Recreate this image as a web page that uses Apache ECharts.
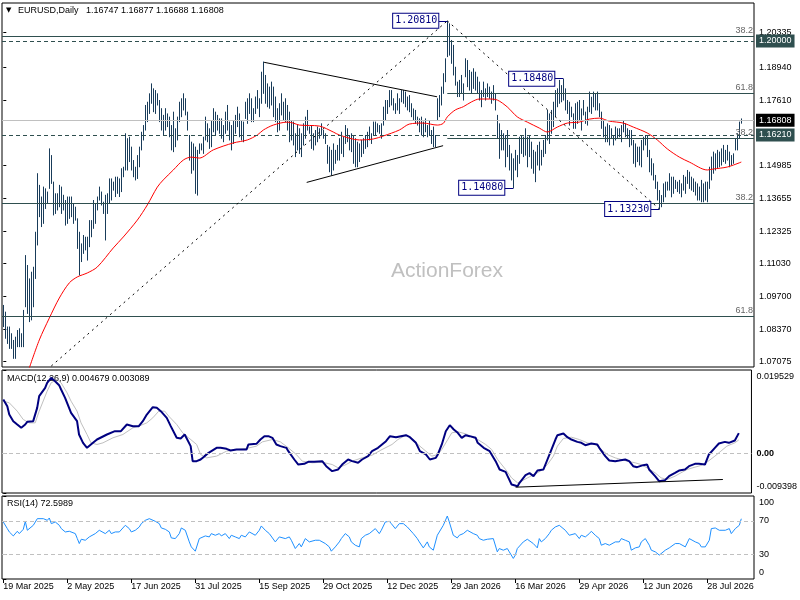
<!DOCTYPE html>
<html><head><meta charset="utf-8">
<script src="https://cdn.jsdelivr.net/npm/echarts@6/dist/echarts.min.js"></script>
<style>html,body{margin:0;padding:0;background:#fff}#c{width:800px;height:600px}</style>
</head><body><div id="c"></div>
<script>
// ---------- DATA ----------
const TICK_BARS = [0,32,64,96,128,160,192,224,256,288,320,352];
const TICK_LABELS = ['19 Mar 2025','2 May 2025','17 Jun 2025','31 Jul 2025','15 Sep 2025','29 Oct 2025','12 Dec 2025','29 Jan 2026','16 Mar 2026','29 Apr 2026','12 Jun 2026','28 Jul 2026'];
const PRICE_TICKS = [1.07075,1.08370,1.09700,1.11030,1.12325,1.13655,1.14985,1.17610,1.18940,1.20335];

const HIGH = [
1.0936,1.0909,1.0849,1.0849,1.0822,1.0795,1.0808,1.0835,1.0842,1.0822,
1.0916,1.1137,1.1097,1.1043,1.1070,1.1090,1.1231,1.1467,1.1420,1.1373,
1.1413,1.1406,1.1393,1.1567,1.1540,1.1433,1.1386,1.1386,1.1420,1.1413,
1.1380,1.1359,1.1373,1.1373,1.1373,1.1346,1.1332,1.1285,1.1231,1.1184,
1.1218,1.1211,1.1211,1.1278,1.1278,1.1359,1.1346,1.1373,1.1413,1.1393,
1.1352,1.1380,1.1386,1.1446,1.1446,1.1433,1.1453,1.1453,1.1446,1.1487,
1.1493,1.1628,1.1608,1.1614,1.1574,1.1520,1.1493,1.1540,1.1574,1.1634,
1.1661,1.1742,1.1755,1.1789,1.1829,1.1809,1.1802,1.1789,1.1762,1.1729,
1.1702,1.1729,1.1708,1.1695,1.1661,1.1715,1.1648,1.1695,1.1755,1.1769,
1.1789,1.1769,1.1715,1.1621,1.1594,1.1587,1.1574,1.1561,1.1587,1.1587,
1.1614,1.1695,1.1668,1.1648,1.1681,1.1729,1.1715,1.1702,1.1688,1.1688,
1.1661,1.1715,1.1742,1.1675,1.1661,1.1681,1.1702,1.1735,1.1708,1.1681,
1.1675,1.1755,1.1769,1.1789,1.1769,1.1729,1.1776,1.1802,1.1769,1.1876,
1.1917,1.1863,1.1829,1.1816,1.1836,1.1816,1.1776,1.1729,1.1749,1.1789,
1.1755,1.1769,1.1742,1.1715,1.1681,1.1675,1.1628,1.1661,1.1648,1.1628,
1.1668,1.1695,1.1722,1.1655,1.1661,1.1628,1.1641,1.1655,1.1648,1.1668,
1.1641,1.1628,1.1581,1.1574,1.1561,1.1587,1.1561,1.1581,1.1608,1.1634,
1.1614,1.1661,1.1648,1.1621,1.1628,1.1621,1.1608,1.1594,1.1587,1.1601,
1.1608,1.1621,1.1634,1.1655,1.1628,1.1675,1.1675,1.1668,1.1661,1.1668,
1.1735,1.1762,1.1762,1.1802,1.1802,1.1769,1.1749,1.1789,1.1769,1.1802,
1.1802,1.1796,1.1776,1.1782,1.1749,1.1728,1.1722,1.1695,1.1688,1.1695,
1.1675,1.1688,1.1661,1.1681,1.1641,1.1655,1.1621,1.1769,1.1782,1.1816,
1.1870,1.1930,1.2081,1.2071,1.2004,1.1984,1.1896,1.1836,1.1843,1.1863,
1.1829,1.1930,1.1923,1.1883,1.1876,1.1890,1.1876,1.1856,1.1836,1.1802,
1.1836,1.1809,1.1829,1.1816,1.1796,1.1822,1.1789,1.1702,1.1668,1.1641,
1.1628,1.1621,1.1641,1.1581,1.1547,1.1527,1.1561,1.1540,1.1614,1.1621,
1.1614,1.1648,1.1614,1.1621,1.1594,1.1561,1.1554,1.1581,1.1594,1.1561,
1.1601,1.1621,1.1722,1.1708,1.1722,1.1755,1.1802,1.1809,1.1843,1.1822,
1.1848,1.1809,1.1762,1.1755,1.1735,1.1708,1.1749,1.1755,1.1762,1.1728,
1.1762,1.1715,1.1735,1.1796,1.1775,1.1796,1.1789,1.1796,1.1749,1.1715,
1.1681,1.1655,1.1668,1.1661,1.1648,1.1621,1.1655,1.1648,1.1648,1.1661,
1.1681,1.1668,1.1648,1.1641,1.1641,1.1601,1.1587,1.1574,1.1574,1.1601,
1.1614,1.1621,1.1621,1.1561,1.1527,1.1507,1.1460,1.1433,1.1399,1.1379,
1.1426,1.1433,1.1433,1.1467,1.1453,1.1453,1.1440,1.1433,1.1440,1.1426,
1.1460,1.1453,1.1480,1.1473,1.1453,1.1446,1.1433,1.1426,1.1413,1.1440,
1.1426,1.1433,1.1433,1.1493,1.1534,1.1554,1.1547,1.1561,1.1554,1.1567,
1.1581,1.1561,1.1581,1.1554,1.1540,1.1547,1.1608,1.1628,1.1675,1.16877
];
const LOW = [
1.0849,1.0802,1.0781,1.0761,1.0761,1.0721,1.0721,1.0768,1.0768,1.0768,
1.0768,1.0929,1.0902,1.0869,1.0876,1.0929,1.1043,1.1178,1.1292,1.1252,
1.1265,1.1325,1.1346,1.1406,1.1426,1.1299,1.1305,1.1319,1.1332,1.1305,
1.1319,1.1258,1.1265,1.1285,1.1292,1.1265,1.1278,1.1164,1.1057,1.1111,
1.1144,1.1158,1.1117,1.1171,1.1211,1.1245,1.1265,1.1319,1.1359,1.1339,
1.1305,1.1198,1.1305,1.1346,1.1359,1.1399,1.1373,1.1386,1.1373,1.1393,
1.1453,1.1480,1.1480,1.1514,1.1480,1.1453,1.1440,1.1446,1.1493,1.1561,
1.1601,1.1641,1.1675,1.1708,1.1749,1.1715,1.1708,1.1742,1.1675,1.1641,
1.1621,1.1641,1.1655,1.1614,1.1561,1.1554,1.1574,1.1601,1.1675,1.1695,
1.1722,1.1702,1.1641,1.1520,1.1467,1.1480,1.1386,1.1379,1.1547,1.1561,
1.1547,1.1601,1.1594,1.1567,1.1574,1.1634,1.1621,1.1641,1.1628,1.1608,
1.1594,1.1628,1.1641,1.1601,1.1561,1.1587,1.1628,1.1655,1.1614,1.1601,
1.1594,1.1688,1.1668,1.1708,1.1675,1.1675,1.1708,1.1729,1.1695,1.1749,
1.1789,1.1749,1.1735,1.1729,1.1742,1.1695,1.1675,1.1634,1.1641,1.1702,
1.1681,1.1675,1.1641,1.1594,1.1601,1.1581,1.1534,1.1561,1.1547,1.1534,
1.1581,1.1608,1.1641,1.1628,1.1567,1.1561,1.1581,1.1594,1.1608,1.1621,
1.1608,1.1587,1.1507,1.1473,1.1460,1.1480,1.1507,1.1520,1.1520,1.1547,
1.1534,1.1587,1.1594,1.1561,1.1554,1.1507,1.1493,1.1493,1.1514,1.1534,
1.1547,1.1567,1.1574,1.1601,1.1587,1.1621,1.1621,1.1634,1.1628,1.1608,
1.1661,1.1681,1.1708,1.1735,1.1742,1.1722,1.1708,1.1722,1.1708,1.1755,
1.1749,1.1735,1.1722,1.1715,1.1695,1.1681,1.1668,1.1661,1.1634,1.1621,
1.1614,1.1634,1.1614,1.1621,1.1587,1.1574,1.1574,1.1681,1.1695,1.1742,
1.1789,1.1836,1.1937,1.1943,1.1910,1.1863,1.1822,1.1776,1.1776,1.1789,
1.1762,1.1856,1.1816,1.1802,1.1789,1.1809,1.1802,1.1789,1.1762,1.1735,
1.1776,1.1762,1.1776,1.1769,1.1749,1.1762,1.1722,1.1608,1.1527,1.1561,
1.1561,1.1493,1.1534,1.1480,1.1440,1.1408,1.1480,1.1453,1.1507,1.1547,
1.1534,1.1540,1.1493,1.1534,1.1487,1.1467,1.1433,1.1500,1.1480,1.1500,
1.1534,1.1547,1.1601,1.1587,1.1628,1.1655,1.1695,1.1735,1.1749,1.1755,
1.1762,1.1722,1.1708,1.1661,1.1695,1.1648,1.1648,1.1668,1.1681,1.1641,
1.1702,1.1668,1.1661,1.1715,1.1708,1.1735,1.1722,1.1722,1.1695,1.1648,
1.1614,1.1594,1.1594,1.1581,1.1608,1.1581,1.1601,1.1608,1.1614,1.1594,
1.1634,1.1614,1.1608,1.1574,1.1581,1.1507,1.1493,1.1514,1.1500,1.1493,
1.1561,1.1581,1.1534,1.1473,1.1460,1.1440,1.1406,1.1359,1.1323,1.1332,
1.1352,1.1372,1.1399,1.1399,1.1372,1.1386,1.1406,1.1393,1.1386,1.1372,
1.1399,1.1386,1.1426,1.1406,1.1399,1.1393,1.1379,1.1359,1.1359,1.1352,
1.1352,1.1359,1.1352,1.1406,1.1440,1.1467,1.1480,1.1487,1.1493,1.1500,
1.1514,1.1507,1.1520,1.1493,1.1500,1.1507,1.1561,1.1561,1.1608,1.16688
];

const MA_POINTS = [[13,1.0682],[18,1.0795],[23,1.0883],[28,1.0964],[33,1.1025],[37,1.1049],[42,1.1065],[47,1.1089],[55,1.1166],[60,1.1210],[67,1.1278],[72,1.1339],[77,1.1411],[80,1.1440],[85,1.1480],[90,1.1520],[94,1.1532],[98,1.1528],[105,1.1561],[115,1.1589],[122,1.1601],[127,1.1621],[130,1.1641],[135,1.1661],[142,1.1673],[145,1.1669],[148,1.1661],[158,1.1657],[165,1.1633],[168,1.1621],[178,1.1601],[185,1.1605],[190,1.1617],[198,1.1641],[203,1.1665],[210,1.1669],[217,1.1661],[220,1.1668],[222,1.1694],[226,1.1722],[230,1.1735],[234,1.1754],[238,1.1766],[243,1.1766],[247,1.1762],[252,1.1734],[257,1.1694],[262,1.1673],[268,1.1649],[272,1.1633],[277,1.1653],[282,1.1669],[288,1.1673],[293,1.1685],[298,1.1689],[303,1.1677],[310,1.1669],[315,1.1653],[322,1.1629],[327,1.1601],[332,1.1565],[338,1.1532],[343,1.1512],[352,1.1480],[355,1.1484],[362,1.1492],[369,1.1512]];

const MACD_POINTS = [[0,0.01259],[2,0.01102],[3,0.00906],[5,0.00750],[7,0.00671],[9,0.00593],[11,0.00671],[12,0.00734],[15,0.00750],[17,0.01063],[18,0.01337],[21,0.01533],[22,0.01651],[24,0.01769],[26,0.01690],[28,0.01596],[29,0.01494],[31,0.01298],[33,0.01063],[34,0.00945],[37,0.00750],[38,0.00436],[40,0.00240],[42,0.00122],[43,0.00162],[45,0.00240],[47,0.00318],[48,0.00358],[52,0.00436],[53,0.00475],[56,0.00514],[59,0.00514],[62,0.00671],[63,0.00710],[65,0.00632],[68,0.00632],[70,0.00750],[72,0.00906],[75,0.01079],[77,0.01063],[79,0.00985],[82,0.00828],[84,0.00632],[87,0.00358],[89,0.00342],[91,0.00436],[92,0.00397],[94,0.00162],[95,-0.00191],[97,-0.00191],[99,-0.00152],[101,-0.00073],[103,0.00005],[107,0.00122],[109,0.00122],[112,0.00099],[114,0.00060],[117,0.00083],[118,0.00107],[122,0.00083],[123,0.00201],[127,0.00217],[129,0.00318],[131,0.00397],[133,0.00397],[135,0.00358],[137,0.00201],[139,0.00162],[142,0.00122],[143,0.00044],[146,-0.00152],[148,-0.00270],[151,-0.00254],[153,-0.00207],[156,-0.00207],[160,-0.00191],[162,-0.00309],[165,-0.00426],[168,-0.00387],[170,-0.00270],[173,-0.00152],[175,-0.00191],[178,-0.00230],[180,-0.00152],[183,-0.00073],[185,0.00044],[188,0.00122],[192,0.00279],[194,0.00397],[197,0.00373],[198,0.00397],[202,0.00420],[204,0.00373],[207,0.00240],[209,0.00044],[212,-0.00034],[214,-0.00152],[217,-0.00113],[218,-0.00034],[220,0.00201],[222,0.00514],[224,0.00655],[226,0.00554],[228,0.00475],[230,0.00358],[232,0.00420],[234,0.00397],[237,0.00358],[238,0.00240],[241,0.00122],[244,0.00044],[247,-0.00191],[249,-0.00387],[252,-0.00442],[253,-0.00544],[255,-0.00740],[258,-0.00779],[259,-0.00701],[262,-0.00520],[264,-0.00473],[266,-0.00544],[268,-0.00411],[271,-0.00387],[273,-0.00152],[275,0.00083],[277,0.00318],[278,0.00420],[281,0.00460],[283,0.00373],[285,0.00318],[288,0.00263],[290,0.00240],[292,0.00185],[295,0.00224],[298,0.00201],[299,0.00122],[302,-0.00073],[304,-0.00176],[307,-0.00191],[309,-0.00176],[312,-0.00152],[314,-0.00191],[316,-0.00309],[318,-0.00332],[321,-0.00285],[323,-0.00270],[324,-0.00387],[327,-0.00544],[329,-0.00662],[332,-0.00638],[334,-0.00544],[337,-0.00465],[339,-0.00411],[342,-0.00387],[344,-0.00309],[347,-0.00254],[349,-0.00254],[352,-0.00270],[354,-0.00034],[357,0.00122],[359,0.00224],[362,0.00263],[364,0.00240],[367,0.00295],[369,0.00468]];

const SIGNAL_POINTS = [[0,0.01220],[3,0.01181],[7,0.00985],[10,0.00789],[13,0.00710],[16,0.00710],[18,0.00985],[22,0.01455],[24,0.01651],[27,0.01729],[29,0.01651],[32,0.01416],[34,0.01220],[37,0.00985],[39,0.00710],[42,0.00436],[44,0.00240],[47,0.00201],[50,0.00240],[55,0.00358],[60,0.00436],[65,0.00593],[68,0.00632],[72,0.00710],[75,0.00828],[78,0.00985],[81,0.00985],[83,0.00867],[87,0.00671],[90,0.00475],[93,0.00358],[97,0.00201],[99,-0.00034],[102,-0.00113],[107,-0.00073],[112,0.00044],[117,0.00083],[122,0.00107],[127,0.00162],[130,0.00263],[135,0.00318],[139,0.00263],[143,0.00122],[147,-0.00034],[150,-0.00191],[155,-0.00230],[160,-0.00215],[165,-0.00270],[168,-0.00348],[172,-0.00270],[175,-0.00191],[180,-0.00113],[185,-0.00050],[190,0.00083],[195,0.00201],[198,0.00318],[202,0.00420],[205,0.00342],[208,0.00201],[212,0.00044],[215,-0.00073],[218,-0.00034],[220,0.00083],[223,0.00318],[225,0.00475],[228,0.00499],[232,0.00452],[235,0.00373],[238,0.00318],[242,0.00201],[245,0.00083],[248,-0.00152],[252,-0.00387],[255,-0.00583],[258,-0.00701],[260,-0.00662],[263,-0.00583],[267,-0.00489],[270,-0.00411],[273,-0.00270],[276,-0.00073],[278,0.00162],[281,0.00342],[285,0.00373],[289,0.00318],[293,0.00240],[297,0.00201],[300,0.00083],[303,-0.00034],[307,-0.00113],[310,-0.00152],[313,-0.00191],[317,-0.00230],[320,-0.00270],[323,-0.00348],[327,-0.00465],[330,-0.00583],[333,-0.00622],[337,-0.00544],[340,-0.00465],[343,-0.00387],[347,-0.00332],[350,-0.00293],[353,-0.00215],[357,-0.00073],[360,0.00044],[363,0.00162],[367,0.00240],[369,0.00309]];

const RSI_POINTS = [[0,68.7],[2,60.7],[3,56.7],[5,51.9],[7,57.5],[8,54.7],[10,59.9],[11,69.5],[12,58.7],[13,60.7],[15,64.7],[17,72.7],[18,70.7],[20,72.7],[22,70.7],[23,73.5],[24,66.7],[26,68.7],[28,64.7],[29,60.7],[31,56.7],[33,57.5],[34,59.9],[36,54.7],[37,48.7],[38,42.7],[39,47.9],[41,46.7],[43,50.7],[44,52.7],[46,54.7],[48,58.7],[49,56.7],[51,54.7],[53,58.7],[54,54.7],[56,56.7],[58,56.7],[59,58.7],[61,64.7],[63,60.7],[64,56.7],[66,58.7],[68,62.7],[69,66.7],[71,70.7],[73,72.7],[74,73.5],[76,69.5],[78,66.7],[79,61.5],[81,59.9],[83,56.7],[84,49.5],[86,48.7],[88,54.7],[89,61.5],[91,58.7],[93,44.7],[94,38.7],[96,33.5],[98,48.7],[99,49.5],[101,51.9],[103,50.7],[104,54.7],[106,52.7],[108,54.7],[109,51.9],[111,54.7],[113,48.7],[114,52.7],[116,50.7],[118,48.7],[119,52.7],[121,50.7],[123,56.7],[124,54.7],[126,52.7],[128,58.7],[129,63.9],[131,58.7],[133,54.7],[134,56.7],[136,44.7],[138,50.7],[139,50.7],[141,48.7],[143,50.7],[144,46.7],[146,36.7],[148,42.7],[149,38.7],[151,48.7],[153,44.7],[154,44.7],[156,46.7],[158,46.7],[159,48.7],[161,42.7],[163,38.7],[164,33.5],[166,38.7],[168,44.7],[169,48.7],[171,54.7],[173,50.7],[174,44.7],[176,40.7],[178,38.7],[179,48.7],[181,52.7],[183,54.7],[184,56.7],[186,60.7],[188,54.7],[189,58.7],[191,68.7],[193,69.5],[194,66.7],[196,60.7],[198,66.7],[200,66.7],[202,62.7],[203,60.7],[205,54.7],[207,48.7],[208,44.7],[210,37.5],[212,44.7],[213,38.7],[215,34.7],[217,52.7],[218,56.7],[220,64.7],[222,75.9],[223,68.7],[225,52.7],[227,49.5],[228,52.7],[230,54.7],[232,58.7],[233,56.7],[235,54.7],[237,52.7],[238,48.7],[240,46.7],[242,47.9],[243,49.5],[245,48.7],[247,32.7],[248,36.7],[250,34.7],[252,36.7],[253,32.7],[255,24.8],[256,28.8],[257,36.7],[258,38.7],[260,44.7],[262,47.9],[263,46.7],[265,42.7],[267,37.5],[268,48.7],[269,44.7],[271,48.7],[273,54.7],[274,58.7],[276,62.7],[278,64.7],[279,62.7],[281,58.7],[283,52.7],[284,50.7],[286,54.7],[288,48.7],[289,52.7],[291,50.7],[293,54.7],[294,57.5],[296,52.7],[298,48.7],[299,40.7],[301,42.7],[303,40.7],[304,42.7],[306,44.7],[308,44.7],[309,48.7],[311,46.7],[313,44.7],[314,34.7],[316,37.5],[318,38.7],[319,44.7],[321,48.7],[323,40.7],[324,34.7],[326,32.7],[328,28.8],[329,30.7],[331,34.7],[333,37.5],[334,36.7],[336,42.7],[338,42.7],[339,44.7],[341,38.7],[343,48.7],[344,46.7],[346,44.7],[348,42.7],[349,38.7],[351,38.7],[353,46.7],[354,60.7],[356,61.5],[358,58.7],[359,60.7],[361,58.7],[363,60.7],[364,54.7],[366,60.7],[368,64.7],[369,72.6]];

// drawn objects (bar index, price)
const FIB_LEVELS = [1.2020, 1.1789, 1.1609, 1.1346, 1.0892];
const FIB_TEXTS  = ['38.2', '61.8', '38.2', '38.2', '61.8'];
const FIB_FROM   = [null, 222, 222, null, null];
const LEVEL_BOXES = [1.2000, 1.1621];
const LAST_PRICE = 1.16808;
const TRI_UPPER = [[130.4, 1.1914], [216.9, 1.1775]];
const TRI_LOWER = [[151.7, 1.1430], [219.9, 1.1578]];
const DIAG_UP   = [[24, 1.0690], [222, 1.2081]];
const DIAG_DOWN = [[222, 1.2081], [328, 1.1323]];
const MACD_TREND = [[257, -0.00803], [361, -0.00622]];
const ANN_BARS   = [222, 280, 255, 328];
const ANN_PRICES = [1.2081, 1.1848, 1.1408, 1.1323];
const ANN_TEXTS  = ['1.20810', '1.18480', '1.14080', '1.13230'];

if (HIGH.length !== 370 || LOW.length !== 370) throw new Error('len ' + HIGH.length + ' ' + LOW.length);

// ---------- CHART ----------
const FONT = '"Liberation Sans", Arial, sans-serif';
const BAR_COLOR = '#193c5a';
const FIB_COLOR = '#2f4f4f';
const X_MIN = -0.65, X_MAX = 375.35;
const P_MIN = 1.0686, P_MAX = 1.2153;
const MACD_MIN = -0.009398, MACD_MAX = 0.019529;
const ANN_GAP = 9;                 // connector length in px
const near = (a, b) => Math.abs(a - b) < 1e-9;

const chart = echarts.init(document.getElementById('c'));

const barData = HIGH.map((h, i) => [i, LOW[i], h]);

const hSeg = (from, lv, lineStyle, label) => [
  {coord: [from, lv], lineStyle: lineStyle, label: label || {show: false}},
  {coord: [X_MAX, lv]}
];
const boxLabel = (text, bg) => ({show: true, position: 'end', formatter: text, color: '#fff', backgroundColor: bg,
  padding: [2, 3, 1, 3], distance: 2, fontFamily: FONT, fontSize: 9, lineHeight: 10});

const mainLines = [];
FIB_LEVELS.forEach((lv, k) => {
  const lab = {show: true, position: 'insideEndTop', formatter: FIB_TEXTS[k], color: '#666', fontFamily: FONT, fontSize: 9, distance: [1, 1]};
  const from = FIB_FROM[k] === null ? X_MIN : FIB_FROM[k];
  mainLines.push(hSeg(from, lv, {color: FIB_COLOR, width: 1, type: 'solid'}, lab));
});
LEVEL_BOXES.forEach(lv => {
  mainLines.push(hSeg(X_MIN, lv, {color: FIB_COLOR, width: 1, type: [4, 3]}, boxLabel(lv.toFixed(5), FIB_COLOR)));
});
mainLines.push(hSeg(X_MIN, LAST_PRICE, {color: '#c0c0c0', width: 1, type: 'solid'}, boxLabel(LAST_PRICE.toFixed(5), '#000')));
[TRI_UPPER, TRI_LOWER].forEach(s => mainLines.push([{coord: s[0], lineStyle: {color: '#000', width: 1, type: 'solid'}}, {coord: s[1]}]));
[DIAG_UP, DIAG_DOWN].forEach(s => mainLines.push([{coord: s[0], lineStyle: {color: '#000', width: 1, type: [2, 4]}}, {coord: s[1]}]));
ANN_BARS.forEach((b, k) => {
  mainLines.push([{coord: [b - ANN_GAP / 2, ANN_PRICES[k]], lineStyle: {color: '#000080', width: 1, type: 'solid'}}, {coord: [b, ANN_PRICES[k]]}]);
});

const annPoints = ANN_BARS.map((b, k) => ({coord: [b, ANN_PRICES[k]], name: ANN_TEXTS[k]}));

const gridBase = {left: 2, width: 752, show: true, borderColor: '#000', borderWidth: 1, backgroundColor: 'transparent'};
const hiddenX = gi => ({gridIndex: gi, type: 'value', min: X_MIN, max: X_MAX, show: false});
const axisText = {fontFamily: FONT, fontSize: 9, color: '#000'};

const option = {
  animation: false,
  backgroundColor: '#fff',
  grid: [
    Object.assign({top: 3, height: 364}, gridBase),
    Object.assign({top: 370, height: 123}, gridBase),
    Object.assign({top: 496, height: 83}, gridBase)
  ],
  xAxis: [
    hiddenX(0), hiddenX(1),
    {gridIndex: 2, type: 'value', min: X_MIN, max: X_MAX,
      axisLine: {show: false}, splitLine: {show: false},
      axisTick: {show: true, customValues: TICK_BARS, length: 4, lineStyle: {color: '#000'}},
      axisLabel: Object.assign({customValues: TICK_BARS, align: 'left', margin: 3,
        formatter: v => TICK_LABELS[TICK_BARS.indexOf(Math.round(v))] || ''}, axisText)}
  ],
  yAxis: [
    {gridIndex: 0, type: 'value', position: 'right', min: P_MIN, max: P_MAX,
      splitLine: {show: false}, axisLine: {show: false},
      axisTick: {show: true, customValues: PRICE_TICKS, length: 3, lineStyle: {color: '#000'}},
      axisLabel: Object.assign({customValues: PRICE_TICKS, margin: 5, formatter: v => v.toFixed(5)}, axisText)},
    {gridIndex: 1, type: 'value', position: 'right', min: MACD_MIN, max: MACD_MAX,
      splitLine: {show: false}, axisLine: {show: false},
      axisTick: {show: true, customValues: [MACD_MIN, 0, MACD_MAX], length: 3, lineStyle: {color: '#000'}},
      axisLabel: Object.assign({customValues: [MACD_MIN, 0, MACD_MAX], margin: 5, lineHeight: 13,
        formatter: v => near(v, MACD_MAX) ? '\n' + MACD_MAX.toFixed(6) : near(v, MACD_MIN) ? MACD_MIN.toFixed(6) + '\n' : '{b|0.00}',
        rich: {b: {fontWeight: 'bold', fontFamily: FONT, fontSize: 9}}}, axisText)},
    {gridIndex: 2, type: 'value', position: 'right', min: 0, max: 100,
      splitLine: {show: false}, axisLine: {show: false},
      axisTick: {show: true, customValues: [0, 30, 70, 100], length: 3, lineStyle: {color: '#000'}},
      axisLabel: Object.assign({customValues: [0, 30, 70, 100], margin: 5, lineHeight: 13,
        formatter: v => v === 100 ? '\n100' : v === 0 ? '0\n' : String(v)}, axisText)}
  ],
  graphic: [
    {type: 'text', left: 391, top: 261, z: 0, silent: true, style: {text: 'ActionForex', fill: '#c0c0c0', font: '21px "Liberation Sans", Arial, sans-serif'}},
    {type: 'text', left: 6, top: 7, silent: true, style: {text: '▼', fill: '#000', font: '7px "DejaVu Sans", sans-serif'}},
    {type: 'text', left: 18, top: 6, silent: true, style: {text: 'EURUSD,Daily   1.16747 1.16877 1.16688 1.16808', fill: '#000', font: '9px "Liberation Sans", Arial, sans-serif'}},
    {type: 'text', left: 7, top: 374, silent: true, style: {text: 'MACD(12,26,9) 0.004679 0.003089', fill: '#000', font: '9px "Liberation Sans", Arial, sans-serif'}},
    {type: 'text', left: 7, top: 499, silent: true, style: {text: 'RSI(14) 72.5989', fill: '#000', font: '9px "Liberation Sans", Arial, sans-serif'}}
  ],
  series: [
    {type: 'custom', name: 'bars', xAxisIndex: 0, yAxisIndex: 0, data: barData, clip: true, silent: true,
      encode: {x: 0, y: [1, 2]},
      renderItem: (params, api) => {
        const a = api.coord([api.value(0), api.value(2)]);
        const b = api.coord([api.value(0), api.value(1)]);
        const x = Math.floor(a[0]) + 0.5;
        return {type: 'line', shape: {x1: x, y1: a[1], x2: x, y2: b[1] + 0.5}, style: {stroke: BAR_COLOR, lineWidth: 1}};
      }},
    {type: 'line', name: 'MA', xAxisIndex: 0, yAxisIndex: 0, data: MA_POINTS, symbol: 'none', smooth: 0.3, silent: true, z: 3,
      lineStyle: {color: '#ff0000', width: 1},
      markLine: {silent: true, symbol: 'none', animation: false, label: {show: false}, data: mainLines},
      markPoint: {silent: true, symbol: 'rect', symbolSize: 0, animation: false, data: annPoints,
        label: {show: true, position: 'left', distance: ANN_GAP, formatter: p => p.name, color: '#000080', backgroundColor: '#fff',
          borderColor: '#000080', borderWidth: 1, padding: [2, 1, 1, 2],
          fontFamily: '"DejaVu Sans Mono", monospace', fontSize: 10, lineHeight: 11}}},
    {type: 'line', name: 'signal', xAxisIndex: 1, yAxisIndex: 1, data: SIGNAL_POINTS, symbol: 'none', silent: true,
      lineStyle: {color: '#c0c0c0', width: 1},
      markLine: {silent: true, symbol: 'none', animation: false, label: {show: false},
        data: [[{coord: [X_MIN, 0], lineStyle: {color: '#c0c0c0', width: 1, type: [4, 3]}}, {coord: [X_MAX, 0]}],
               [{coord: MACD_TREND[0], lineStyle: {color: '#000', width: 1, type: 'solid'}}, {coord: MACD_TREND[1]}]]}},
    {type: 'line', name: 'MACD', xAxisIndex: 1, yAxisIndex: 1, data: MACD_POINTS, symbol: 'none', silent: true, z: 3,
      lineStyle: {color: '#000080', width: 2}},
    {type: 'line', name: 'RSI', xAxisIndex: 2, yAxisIndex: 2, data: RSI_POINTS, symbol: 'none', silent: true,
      lineStyle: {color: '#1e90ff', width: 1},
      markLine: {silent: true, symbol: 'none', animation: false, label: {show: false},
        data: [[{coord: [X_MIN, 70], lineStyle: {color: '#c0c0c0', width: 1, type: [4, 3]}}, {coord: [X_MAX, 70]}],
               [{coord: [X_MIN, 30], lineStyle: {color: '#c0c0c0', width: 1, type: [4, 3]}}, {coord: [X_MAX, 30]}]]}}
  ]
};
chart.setOption(option);
</script>
</body></html>
